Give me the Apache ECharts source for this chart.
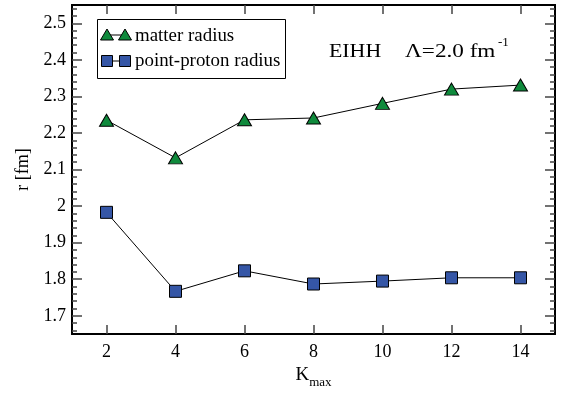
<!DOCTYPE html>
<html>
<head>
<meta charset="utf-8">
<script src="https://cdn.jsdelivr.net/npm/echarts@6/dist/echarts.min.js"></script>
<style>
  html, body { margin: 0; padding: 0; background: #fff; }
  #chart { width: 567px; height: 394px; }
</style>
</head>
<body>
<div id="chart"></div>
<script>
// values
const kmax = [2, 4, 6, 8, 10, 12, 14];
const matterRadius = [2.235, 2.132, 2.236, 2.241, 2.281, 2.320, 2.331];
const protonRadius = [1.983, 1.767, 1.823, 1.787, 1.795, 1.804, 1.804];

const xTicks = [2, 4, 6, 8, 10, 12, 14];
const yMajor = [1.7, 1.8, 1.9, 2.0, 2.1, 2.2, 2.3, 2.4, 2.5];
const yMinor = [1.66, 1.68, 1.72, 1.74, 1.76, 1.78, 1.82, 1.84, 1.86, 1.88,
    1.92, 1.94, 1.96, 1.98, 2.02, 2.04, 2.06, 2.08, 2.12, 2.14, 2.16, 2.18,
    2.22, 2.24, 2.26, 2.28, 2.32, 2.34, 2.36, 2.38, 2.42, 2.44, 2.46, 2.48,
    2.52, 2.54];

const FONT = '"Liberation Serif", "DejaVu Serif", serif';
const GREEN = '#0f8a3c';
const BLUE = '#3556a6';

const chart = echarts.init(document.getElementById('chart'), null, {renderer: 'canvas'});

const axisLine = {show: true, lineStyle: {color: '#000', width: 2}};

function yAx(pos, ticks, len, labels) {
    return {
        type: 'value', min: 1.65, max: 2.55, position: pos,
        axisLine: axisLine,
        axisTick: {show: true, inside: true, length: len, customValues: ticks,
            lineStyle: {color: '#444', width: 1.5}},
        axisLabel: labels ? {
            show: true, customValues: yMajor, color: '#000', fontFamily: FONT, fontSize: 18, margin: 6,
            formatter: v => String(Math.round(v * 10) / 10)
        } : {show: false},
        splitLine: {show: false},
        name: labels ? 'r [fm]' : '',
        nameLocation: 'middle', nameGap: 38, nameRotate: 90,
        nameTextStyle: {color: '#000', fontFamily: FONT, fontSize: 18}
    };
}

function xAx(pos, labels) {
    return {
        type: 'value', min: 1, max: 15, position: pos,
        axisLine: axisLine,
        axisTick: {show: true, inside: true, length: 9, customValues: xTicks,
            lineStyle: {color: '#444', width: 1.5}},
        axisLabel: labels ? {
            show: true, customValues: xTicks, color: '#000', fontFamily: FONT, fontSize: 18, margin: 9
        } : {show: false},
        splitLine: {show: false},
        name: labels ? '{k|K}{s|max}' : '',
        nameLocation: 'middle', nameGap: 23,
        nameTextStyle: {
            rich: {
                k: {fontFamily: FONT, fontSize: 19, color: '#000'},
                s: {fontFamily: FONT, fontSize: 13, color: '#000', padding: [14, 0, 0, 0]}
            }
        }
    };
}

const option = {
    animation: false,
    grid: {left: 72, right: 12, top: 5, bottom: 51},
    xAxis: [xAx('bottom', true), xAx('top', false)],
    yAxis: [
        yAx('left', yMajor, 10, true),
        yAx('left', yMinor, 5, false),
        yAx('right', yMajor, 10, false),
        yAx('right', yMinor, 5, false)
    ],
    series: [
        {
            name: 'matter radius', type: 'line',
            data: kmax.map((k, i) => [k, matterRadius[i]]),
            symbol: 'triangle', symbolSize: [14, 12],
            lineStyle: {color: '#000', width: 1},
            itemStyle: {color: GREEN, borderColor: '#000', borderWidth: 1}
        },
        {
            name: 'point-proton radius', type: 'line',
            data: kmax.map((k, i) => [k, protonRadius[i]]),
            symbol: 'rect', symbolSize: 12,
            lineStyle: {color: '#000', width: 1},
            itemStyle: {color: BLUE, borderColor: '#000', borderWidth: 1}
        }
    ],
    graphic: [
        // legend box
        {type: 'rect', left: 97, top: 19, shape: {width: 188, height: 59},
            style: {fill: '#fff', stroke: '#000', lineWidth: 1}},
        {type: 'line', shape: {x1: 107, y1: 35, x2: 125, y2: 35}, style: {stroke: '#000', lineWidth: 1}},
        {type: 'polygon', shape: {points: [[107, 29], [113.5, 40], [100.5, 40]]},
            style: {fill: GREEN, stroke: '#000', lineWidth: 1}},
        {type: 'polygon', shape: {points: [[125, 29], [131.5, 40], [118.5, 40]]},
            style: {fill: GREEN, stroke: '#000', lineWidth: 1}},
        {type: 'text', x: 135, y: 27, scaleX: 1.05,
            style: {text: 'matter radius', font: '18px ' + FONT, fill: '#000'}},
        {type: 'line', shape: {x1: 107, y1: 61, x2: 125, y2: 61}, style: {stroke: '#000', lineWidth: 1}},
        {type: 'rect', shape: {x: 101.5, y: 55.5, width: 11, height: 11},
            style: {fill: BLUE, stroke: '#000', lineWidth: 1}},
        {type: 'rect', shape: {x: 119.5, y: 55.5, width: 11, height: 11},
            style: {fill: BLUE, stroke: '#000', lineWidth: 1}},
        {type: 'text', x: 135, y: 52, scaleX: 1.05,
            style: {text: 'point-proton radius', font: '18px ' + FONT, fill: '#000'}},
        // annotation
        {type: 'text', x: 329, y: 43, scaleX: 1.15,
            style: {text: 'EIHH', font: '19px ' + FONT, fill: '#000'}},
        {type: 'text', x: 405, y: 43, scaleX: 1.22,
            style: {text: 'Λ=2.0 fm', font: '19px ' + FONT, fill: '#000'}},
        {type: 'text', x: 498, y: 36,
            style: {text: '-1', font: '13px ' + FONT, fill: '#000'}}
    ]
};

chart.setOption(option);
</script>
</body>
</html>
